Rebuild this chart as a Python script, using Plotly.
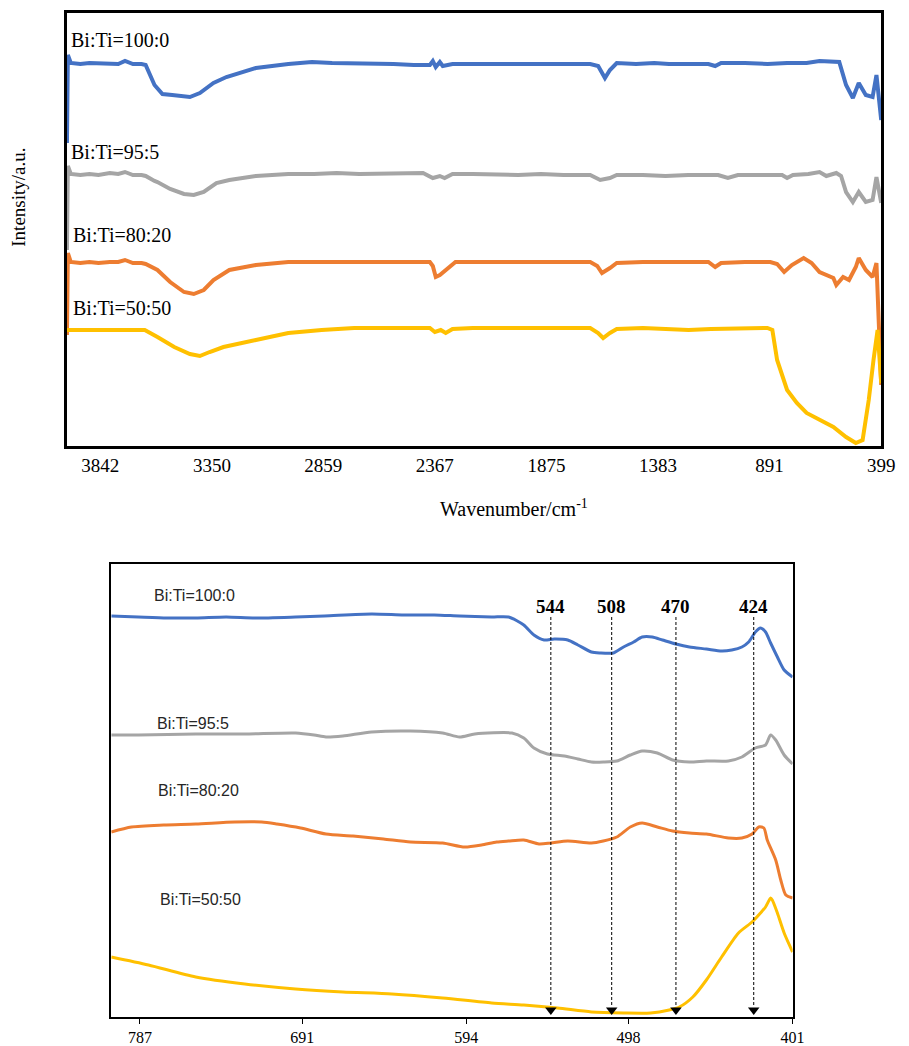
import plotly.graph_objects as go

# ---------------- full-range FTIR spectra (4000-399 cm-1) ----------------
top_wn_100 = [3989, 3985, 3972, 3930, 3890, 3850, 3800, 3763, 3733, 3698,
              3660, 3642, 3603, 3568, 3525, 3447, 3403, 3343, 3286, 3156,
              3013, 2909, 2820, 2723, 2640, 2549, 2460, 2389, 2376, 2363,
              2345, 2332, 2289, 2200, 2100, 2029, 1900, 1800, 1682, 1647,
              1617, 1595, 1565, 1480, 1400, 1335, 1250, 1161, 1131, 1105,
              1000, 900, 814, 728, 671, 584, 554, 524, 498, 467,
              437, 420, 399]
top_int_100 = [303, 391, 383, 382, 383, 383, 382, 382, 385, 382,
               382, 381, 361, 352, 351, 349, 353, 363, 369, 378,
               382, 384, 383, 383, 382, 382, 381, 381, 385, 379,
               384, 380, 382, 382, 381, 382, 382, 381, 382, 380,
               368, 376, 383, 382, 383, 382, 382, 382, 380, 383,
               383, 382, 383, 383, 385, 384, 361, 348, 363, 351,
               349, 371, 326]

top_wn_95 = [3989, 3985, 3972, 3930, 3890, 3850, 3800, 3763, 3733, 3698,
             3660, 3642, 3603, 3590, 3534, 3473, 3430, 3386, 3330, 3273,
             3156, 3013, 2900, 2800, 2700, 2600, 2549, 2480, 2419, 2376,
             2345, 2324, 2289, 2200, 2100, 2000, 1900, 1800, 1682, 1638,
             1595, 1565, 1450, 1350, 1250, 1118, 1075, 1031, 950, 836,
             814, 788, 720, 671, 641, 597, 576, 554, 524, 498,
             467, 437, 420, 399]
top_int_95 = [196, 280, 272, 271, 272, 271, 273, 272, 274, 271,
              271, 270, 265, 264, 257, 252, 251, 254, 263, 266,
              270, 272, 272, 273, 272, 272, 272, 273, 273, 268,
              270, 268, 272, 272, 271, 271, 272, 271, 271, 266,
              268, 271, 271, 270, 271, 271, 268, 271, 271, 271,
              268, 271, 272, 274, 270, 273, 270, 254, 244, 254,
              244, 246, 269, 243]

top_wn_80 = [3989, 3985, 3972, 3930, 3890, 3850, 3800, 3763, 3733, 3698,
             3660, 3642, 3590, 3534, 3473, 3430, 3386, 3343, 3273, 3156,
             3013, 2900, 2800, 2700, 2600, 2500, 2389, 2376, 2363, 2345,
             2302, 2276, 2200, 2100, 2000, 1900, 1800, 1682, 1651, 1630,
             1595, 1565, 1450, 1350, 1250, 1161, 1131, 1105, 1000, 888,
             858, 827, 793, 741, 706, 671, 610, 597, 567, 541,
             511, 498, 467, 437, 420, 399]
top_int_80 = [111, 193, 184, 183, 184, 183, 184, 184, 186, 183,
              183, 182, 176, 164, 154, 152, 156, 166, 176, 181,
              184, 184, 184, 184, 184, 184, 184, 180, 169, 171,
              179, 184, 184, 184, 184, 184, 184, 184, 180, 173,
              178, 183, 184, 184, 184, 184, 179, 183, 184, 184,
              182, 174, 181, 188, 183, 174, 168, 161, 169, 166,
              179, 188, 176, 169, 183, 61]

top_wn_50 = [3989, 3972, 3930, 3890, 3850, 3800, 3763, 3733, 3698, 3646,
             3590, 3516, 3447, 3403, 3360, 3299, 3156, 3013, 2866, 2723,
             2600, 2500, 2389, 2367, 2341, 2319, 2289, 2200, 2100, 2000,
             1900, 1800, 1682, 1647, 1625, 1595, 1565, 1450, 1350, 1248,
             1150, 988, 901, 879, 858, 814, 771, 728, 671, 610,
             554, 511, 481, 454, 433, 415, 399]
top_int_50 = [116, 116, 117, 116, 116, 117, 116, 117, 116, 116,
              109, 99, 92, 90, 94, 99, 106, 113, 116, 118,
              118, 118, 118, 114, 116, 113, 117, 118, 118, 118,
              118, 117, 118, 113, 108, 113, 117, 118, 117, 116,
              117, 118, 118, 116, 86, 56, 43, 33, 26, 19,
              9, 3, 6, 46, 86, 116, 63]

top_ticks = [3842, 3350, 2859, 2367, 1875, 1383, 891, 399]

# ---------------- low-wavenumber region (800-401 cm-1) ----------------
bot_wn_100 = [804, 788, 771, 754, 736, 719, 695, 678, 650, 631,
              613, 598, 579, 569, 560, 554, 548, 542, 534, 528,
              520, 515, 507, 501, 495, 490, 484, 478, 470, 462,
              452, 443, 437, 431, 427, 423, 420, 417, 414, 410,
              406, 401]
bot_int_100 = [401, 400, 399, 399, 400, 399, 400, 401, 403, 402,
               402, 401, 400, 400, 392, 382, 377, 378, 377, 372,
               365, 364, 364, 370, 375, 380, 380, 377, 373, 370,
               368, 366, 367, 370, 375, 385, 389, 385, 374, 360,
               347, 340]

bot_wn_95 = [804, 788, 754, 725, 695, 684, 677, 667, 650, 627,
             608, 598, 589, 567, 560, 554, 546, 536, 528, 520,
             513, 505, 497, 490, 481, 472, 462, 452, 439, 431,
             423, 417, 414, 411, 406, 401]
bot_int_95 = [282, 282, 283, 283, 284, 282, 280, 281, 285, 286,
              284, 280, 283, 284, 279, 269, 263, 261, 258, 255,
              255, 256, 262, 266, 264, 257, 255, 256, 256, 260,
              269, 272, 282, 277, 262, 253]

bot_wn_80 = [804, 792, 773, 754, 731, 715, 706, 692, 677, 661,
             643, 627, 608, 595, 585, 576, 569, 560, 551, 544,
             534, 520, 513, 505, 497, 490, 481, 472, 462, 452,
             439, 431, 425, 421, 418, 416, 411, 408, 405, 401]
bot_int_80 = [185, 190, 192, 193, 195, 195, 193, 189, 183, 181,
              178, 175, 174, 170, 172, 175, 176, 177, 173, 174,
              176, 174, 176, 180, 190, 194, 190, 186, 184, 183,
              179, 179, 183, 190, 189, 177, 157, 137, 122, 119]

bot_wn_50 = [804, 782, 754, 725, 695, 667, 638, 608, 579, 560,
             540, 520, 501, 485, 474, 468, 460, 452, 443, 433,
             425, 420, 417, 414, 413, 410, 406, 401]
bot_int_50 = [60, 52, 40, 33, 28, 25, 23, 19, 14, 12,
              9, 5, 4, 4, 7, 10, 20, 37, 60, 84,
              95, 104, 110, 119, 117, 104, 84, 65]

bot_ticks = [787, 691, 594, 498, 401]
peaks = [544, 508, 470, 424]

series_names = ["Bi:Ti=100:0", "Bi:Ti=95:5", "Bi:Ti=80:20", "Bi:Ti=50:50"]
colors = ["#4472C4", "#A5A5A5", "#ED7D31", "#FFC000"]

W, H = 909, 1046
SERIF = "Liberation Serif, Times New Roman, serif"
SANS = "Liberation Sans, Arial, sans-serif"


def px(xp):
    return xp / W


def py(yp):
    return 1 - yp / H


fig = go.Figure()

top_sets = [(top_wn_100, top_int_100), (top_wn_95, top_int_95),
            (top_wn_80, top_int_80), (top_wn_50, top_int_50)]
for (wn, val), name, col in zip(top_sets, series_names, colors):
    fig.add_trace(go.Scatter(x=wn, y=val, mode="lines", name=name,
                             line=dict(color=col, width=4),
                             xaxis="x", yaxis="y", showlegend=False))

bot_sets = [(bot_wn_100, bot_int_100), (bot_wn_95, bot_int_95),
            (bot_wn_80, bot_int_80), (bot_wn_50, bot_int_50)]
for (wn, val), name, col in zip(bot_sets, series_names, colors):
    fig.add_trace(go.Scatter(x=wn, y=val, mode="lines", name=name,
                             line=dict(color=col, width=3, shape="spline", smoothing=0.7),
                             xaxis="x2", yaxis="y2", showlegend=False))

# peak guides: dashed drop lines ending in arrow heads
for p in peaks:
    fig.add_shape(type="line", x0=p, x1=p, y0=400, y1=10, xref="x2", yref="y2",
                  line=dict(color="black", width=1, dash="3px,2px"))
fig.add_trace(go.Scatter(x=peaks, y=[7] * len(peaks), mode="markers",
                         marker=dict(symbol="triangle-down", size=10, color="black"),
                         xaxis="x2", yaxis="y2", showlegend=False, cliponaxis=False))

annotations = []
# sample labels on the full-range panel
top_label_pos = [(70, 40), (70, 152), (72, 235), (72, 308)]
for name, (xp, yp) in zip(series_names, top_label_pos):
    annotations.append(dict(text=name, x=px(xp), y=py(yp), xref="paper", yref="paper",
                            xanchor="left", yanchor="middle", showarrow=False,
                            font=dict(family=SERIF, size=20, color="black")))
# sample labels on the zoomed panel
bot_label_pos = [(154, 595), (157, 723), (158, 791), (160, 899)]
for name, (xp, yp) in zip(series_names, bot_label_pos):
    annotations.append(dict(text=name, x=px(xp), y=py(yp), xref="paper", yref="paper",
                            xanchor="left", yanchor="middle", showarrow=False,
                            font=dict(family=SANS, size=16, color="#262626")))
# peak position labels
for p in peaks:
    annotations.append(dict(text="<b>%d</b>" % p, x=p, y=411, xref="x2", yref="y2",
                            xanchor="center", yanchor="middle", showarrow=False,
                            font=dict(family=SERIF, size=19, color="black")))
# axis titles of the full-range panel
annotations.append(dict(text="Intensity/a.u.", x=px(18), y=py(197), xref="paper", yref="paper",
                        xanchor="center", yanchor="middle", textangle=-90, showarrow=False,
                        font=dict(family=SERIF, size=19, color="black")))
annotations.append(dict(text="Wavenumber/cm<sup>-1</sup>", x=px(522), y=py(508),
                        xref="paper", yref="paper", xanchor="center", yanchor="middle",
                        showarrow=False, font=dict(family=SERIF, size=20, color="black")))

fig.update_layout(
    width=W, height=H, autosize=False,
    margin=dict(l=0, r=0, t=0, b=0),
    paper_bgcolor="white", plot_bgcolor="white",
    annotations=annotations,
    xaxis=dict(domain=[px(68), px(895)], range=[3989, 399], anchor="y",
               tickmode="array", tickvals=top_ticks, ticks="",
               showgrid=False, zeroline=False,
               showline=True, linecolor="black", linewidth=3, mirror=True,
               tickfont=dict(family=SERIF, size=19, color="black")),
    yaxis=dict(domain=[py(446), py(13)], range=[0, 433], anchor="x",
               showticklabels=False, ticks="", showgrid=False, zeroline=False,
               showline=True, linecolor="black", linewidth=3, mirror=True),
    xaxis2=dict(domain=[px(113), px(805)], range=[804, 401], anchor="y2",
                tickmode="array", tickvals=bot_ticks, ticks="outside", ticklen=5,
                tickwidth=1, tickcolor="black",
                showgrid=False, zeroline=False,
                showline=True, linecolor="black", linewidth=1.5, mirror=True,
                tickfont=dict(family=SERIF, size=16, color="black")),
    yaxis2=dict(domain=[py(1017), py(564)], range=[0, 453], anchor="x2",
                showticklabels=False, ticks="", showgrid=False, zeroline=False,
                showline=True, linecolor="black", linewidth=1.5, mirror=True),
)

fig.write_html("out.html")
